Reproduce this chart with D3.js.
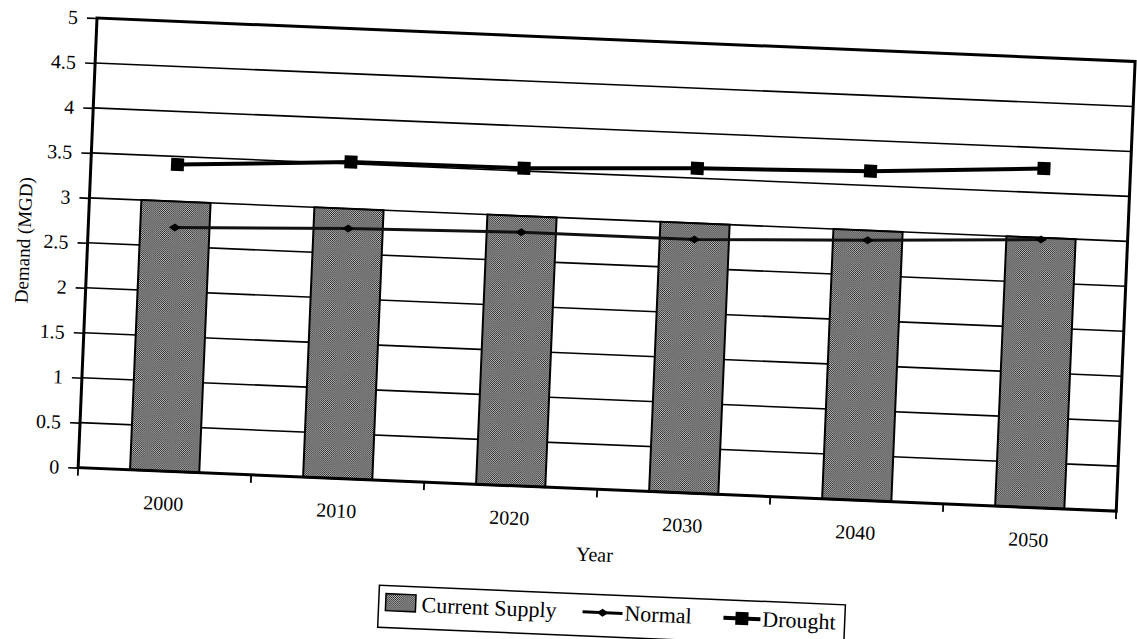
<!DOCTYPE html>
<html><head><meta charset="utf-8">
<script src="https://cdn.jsdelivr.net/npm/d3@7"></script>
<style>body{margin:0;background:#fff}svg{display:block}</style>
</head><body><svg id="c" width="1137" height="639"></svg>
<script>
const years = ["2000","2010","2020","2030","2040","2050"];
const currentSupply = [3,3,3,3,3,3];
const normal = [2.71,2.78,2.82,2.82,2.89,2.98];
const drought = [3.41,3.52,3.53,3.61,3.66,3.77];
const yTicks = [0,0.5,1,1.5,2,2.5,3,3.5,4,4.5,5];
const yTickLabels = ["0","0.5","1","1.5","2","2.5","3","3.5","4","4.5","5"];
const legendLabels = ["Current Supply","Normal","Drought"];

const W = 1039, H = 450;
const font = "'Liberation Serif','Times New Roman',serif";
const svg = d3.select("#c");
svg.append("rect").attr("width",1137).attr("height",639).attr("fill","#fff");

const defs = svg.append("defs");
const pat = defs.append("pattern").attr("id","dots").attr("patternUnits","userSpaceOnUse")
  .attr("width",2).attr("height",2);
pat.append("rect").attr("width",2).attr("height",2).attr("fill","#cfcfcf");
pat.append("rect").attr("width",1).attr("height",1).attr("fill","#111");
pat.append("rect").attr("x",1).attr("y",1).attr("width",1).attr("height",1).attr("fill","#222");

const g = svg.append("g").attr("transform","translate(97,18) rotate(2.4)");

const x = d3.scaleBand().domain(years).range([0,W]).paddingInner(0.6).paddingOuter(0.3);
const y = d3.scaleLinear().domain([0,5]).range([H,0]);
const cx = d => x(d) + x.bandwidth()/2;

// gridlines
g.append("g").selectAll("line").data(yTicks.filter(t=>t>0 && t<5)).join("line")
  .attr("x1",0).attr("x2",W).attr("y1",d=>y(d)).attr("y2",d=>y(d))
  .attr("stroke","#000").attr("stroke-width",1.6);

// bars
g.append("g").selectAll("rect").data(years).join("rect")
  .attr("x",d=>x(d)).attr("width",x.bandwidth())
  .attr("y",(d,i)=>y(currentSupply[i])).attr("height",(d,i)=>H-y(currentSupply[i]))
  .attr("fill","url(#dots)").attr("stroke","#000").attr("stroke-width",2);

// y axis
const yAxis = d3.axisLeft(y).tickValues(yTicks).tickFormat((d,i)=>yTickLabels[i]).tickSize(10).tickPadding(9);
const ya = g.append("g").call(yAxis);
ya.select(".domain").remove();
ya.selectAll(".tick line").attr("stroke","#000").attr("stroke-width",1.6);
ya.selectAll("text").attr("font-family",font).attr("font-size",20).attr("fill","#000");

// x axis: ticks at band boundaries
const bounds = d3.range(years.length+1).map(i => i===0 ? 0 : (i===years.length ? W : x(years[i]) - x.step()*x.paddingInner()/2));
g.append("g").selectAll("line").data(bounds).join("line")
  .attr("x1",d=>d).attr("x2",d=>d).attr("y1",H).attr("y2",H+8)
  .attr("stroke","#000").attr("stroke-width",1.8);
g.append("g").selectAll("text").data(years).join("text")
  .attr("x",d=>cx(d)).attr("y",H+39).attr("text-anchor","middle")
  .attr("font-family",font).attr("font-size",20).text(d=>d);

// plot border
g.append("rect").attr("x",0).attr("y",0).attr("width",W).attr("height",H)
  .attr("fill","none").attr("stroke","#000").attr("stroke-width",3);

// lines
const line = d3.line().x(d=>cx(d[0])).y(d=>y(d[1]));
const nData = years.map((d,i)=>[d,normal[i]]);
const dData = years.map((d,i)=>[d,drought[i]]);
g.append("path").attr("d",line(nData)).attr("fill","none").attr("stroke","#111").attr("stroke-width",3);
g.append("path").attr("d",line(dData)).attr("fill","none").attr("stroke","#000").attr("stroke-width",4);
const diamond = "M-6,0L0,-4L6,0L0,4Z";
g.append("g").selectAll("path").data(nData).join("path")
  .attr("transform",d=>`translate(${cx(d[0])},${y(d[1])})`).attr("d",diamond).attr("fill","#000");
g.append("g").selectAll("rect").data(dData).join("rect")
  .attr("x",d=>cx(d[0])-6.5).attr("y",d=>y(d[1])-6.5).attr("width",13).attr("height",13).attr("fill","#000");

// axis titles
g.append("text").attr("transform",`translate(-64,${H/2}) rotate(-90)`).attr("text-anchor","middle")
  .attr("dominant-baseline","central").attr("font-family",font).attr("font-size",19).text("Demand (MGD)");
g.append("text").attr("x",W/2).attr("y",H+72).attr("text-anchor","middle")
  .attr("font-family",font).attr("font-size",20).text("Year");

// legend
const lg = g.append("g");
const ly = 580;
const t1 = lg.append("text").attr("x",484).attr("y",ly).attr("text-anchor","end")
  .attr("font-family",font).attr("font-size",22).text(legendLabels[0]);
const w1 = t1.node().getComputedTextLength();
const sx = 484 - w1 - 36;
lg.append("rect").attr("x",sx).attr("y",ly-17).attr("width",30).attr("height",17)
  .attr("fill","url(#dots)").attr("stroke","#000").attr("stroke-width",1.5);
lg.append("line").attr("x1",510).attr("x2",550).attr("y1",ly-7).attr("y2",ly-7).attr("stroke","#000").attr("stroke-width",3);
lg.append("path").attr("transform",`translate(530,${ly-7})`).attr("d",diamond).attr("fill","#000");
lg.append("text").attr("x",552).attr("y",ly).attr("font-family",font).attr("font-size",22).text(legendLabels[1]);
lg.append("line").attr("x1",651).attr("x2",688).attr("y1",ly-7).attr("y2",ly-7).attr("stroke","#000").attr("stroke-width",4);
lg.append("rect").attr("x",663).attr("y",ly-13.5).attr("width",13).attr("height",13).attr("fill","#000");
const t3 = lg.append("text").attr("x",690).attr("y",ly).attr("font-family",font).attr("font-size",22).text(legendLabels[2]);
const w3 = t3.node().getComputedTextLength();
lg.insert("rect",":first-child").attr("x",sx-7).attr("y",555).attr("width",690+w3+9-(sx-7)).attr("height",42)
  .attr("fill","#fff").attr("stroke","#000").attr("stroke-width",1.5);
</script></body></html>
